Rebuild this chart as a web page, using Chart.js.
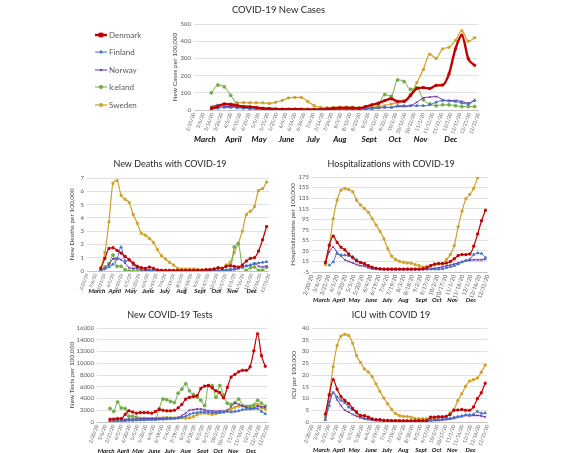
<!DOCTYPE html>
<html>
<head>
<meta charset="utf-8">
<title>COVID-19 Nordic countries</title>
<script src="https://cdn.jsdelivr.net/npm/chart.js@4.4.0/dist/chart.umd.min.js"></script>
<style>
  html, body { margin: 0; padding: 0; background: #fff; }
  body { width: 563px; height: 453px; position: relative; overflow: hidden; }
  canvas { position: absolute; }
</style>
</head>
<body>
<canvas id="casesChart" width="415" height="146" style="left:71px;top:0px"></canvas>
<canvas id="deathsChart" width="216" height="152" style="left:60px;top:150px"></canvas>
<canvas id="hospChart" width="216" height="156" style="left:280px;top:150px"></canvas>
<canvas id="testsChart" width="215" height="150" style="left:60px;top:303px"></canvas>
<canvas id="icuChart" width="215" height="150" style="left:280px;top:303px"></canvas>

<script>
// weekly data points (one per week)
const weekDates = ['3/15/20','3/22/20','3/29/20','4/5/20','4/12/20','4/19/20','4/26/20','5/3/20','5/10/20','5/17/20',
  '5/24/20','5/31/20','6/7/20','6/14/20','6/21/20','6/28/20','7/5/20','7/12/20','7/19/20','7/26/20',
  '8/2/20','8/9/20','8/16/20','8/23/20','8/30/20','9/6/20','9/13/20','9/20/20','9/27/20','10/4/20',
  '10/11/20','10/18/20','10/25/20','11/1/20','11/8/20','11/15/20','11/22/20','11/29/20','12/6/20','12/13/20',
  '12/20/20','12/27/20'];

// x tick labels
const caseTickDates = ['2/25/20','3/6/20','3/16/20','3/26/20','4/5/20','4/15/20','4/25/20','5/5/20','5/15/20','5/25/20',
  '6/4/20','6/14/20','6/24/20','7/4/20','7/14/20','7/24/20','8/3/20','8/13/20','8/23/20','9/2/20','9/12/20',
  '9/22/20','10/2/20','10/12/20','10/22/20','11/1/20','11/11/20','11/21/20','12/1/20','12/11/20','12/21/20','12/31/20'];
const panelTickDates = ['2/20/20','3/6/20','3/21/20','4/5/20','4/20/20','5/5/20','5/20/20','6/4/20','6/19/20','7/4/20',
  '7/19/20','8/3/20','8/18/20','9/2/20','9/17/20','10/2/20','10/17/20','11/1/20','11/16/20','12/1/20','12/16/20','12/31/20'];

const monthNames = ['March','April','May','June','July','Aug','Sept','Oct','Nov','Dec'];
const monthAnchors = ['3/8/20','4/8/20','5/6/20','6/5/20','7/4/20','8/2/20','9/3/20','10/1/20','10/29/20','12/1/20'];

// y tick values
const caseTicks = [0, 50, 100, 150, 200, 250, 300, 350, 400, 450, 500];
const deathTicks = [0, 1, 2, 3, 4, 5, 6, 7];
const hospTicks = [-5, 15, 35, 55, 75, 95, 115, 135, 155, 175];
const testTicks = [0, 2000, 4000, 6000, 8000, 10000, 12000, 14000, 16000];
const icuTicks = [0, 5, 10, 15, 20, 25, 30, 35, 40];

const countries = ['Denmark', 'Finland', 'Norway', 'Iceland', 'Sweden'];

// New cases per 100,000
const casesDenmark = [10, 20, 35, 32, 25, 20, 18, 15, 10, 8, 6, 5, 5, 5, 4, 3, 3, 3, 6, 10,
  12, 12, 12, 10, 20, 30, 40, 55, 65, 50, 50, 85, 125, 130, 125, 143, 145, 210, 355, 435, 298, 260];
const casesFinland = [5, 10, 15, 15, 12, 10, 8, 6, 5, 4, 3, 3, 2, 2, 2, 2, 2, 2, 3, 4,
  5, 5, 6, 7, 8, 10, 12, 15, 15, 25, 25, 25, 25, 25, 30, 45, 55, 52, 50, 40, 35, 55];
const casesNorway = [20, 30, 20, 20, 18, 15, 12, 10, 5, 4, 3, 3, 3, 3, 3, 3, 3, 4, 5, 6,
  8, 8, 8, 8, 10, 10, 12, 15, 15, 20, 20, 25, 45, 70, 75, 78, 60, 55, 55, 50, 40, 60];
const casesIceland = [100, 145, 135, 85, 35, 15, 10, 5, 3, 2, 2, 2, 2, 2, 2, 2, 2, 3, 5, 5,
  3, 3, 2, 2, 3, 8, 30, 90, 80, 175, 165, 120, 130, 60, 35, 25, 30, 30, 25, 20, 20, 20];
const casesSweden = [15, 25, 35, 35, 42, 43, 42, 42, 42, 38, 45, 55, 70, 73, 73, 50, 25, 15, 13, 15,
  17, 18, 17, 15, 13, 15, 20, 25, 35, 42, 55, 90, 160, 235, 325, 300, 355, 365, 405, 460, 400, 420];

// New deaths per 100,000
const deathsDenmark = [0.2, 0.95, 1.7, 1.75, 1.55, 1.35, 1.1, 0.85, 0.6, 0.35, 0.25, 0.2, 0.3, 0.2, 0.08, 0.05, 0.05, 0.05, 0.05, 0.05,
  0.05, 0.05, 0.05, 0.05, 0.05, 0.05, 0.1, 0.1, 0.15, 0.25, 0.2, 0.35, 0.4, 0.35, 0.3, 0.45, 0.75, 0.95, 1.0, 1.5, 2.35, 3.35];
const deathsFinland = [0.05, 0.15, 0.3, 0.5, 0.9, 1.8, 0.75, 0.8, 0.45, 0.3, 0.2, 0.15, 0.1, 0.05, 0.05, 0.04, 0.04, 0.03, 0.03, 0.03,
  0.03, 0.03, 0.03, 0.03, 0.03, 0.04, 0.04, 0.05, 0.05, 0.05, 0.05, 0.06, 0.1, 0.15, 0.2, 0.3, 0.4, 0.45, 0.55, 0.6, 0.65, 0.7];
const deathsNorway = [0.05, 0.2, 0.5, 0.9, 0.95, 0.85, 0.6, 0.25, 0.2, 0.2, 0.1, 0.05, 0.05, 0.03, 0.03, 0.02, 0.02, 0.02, 0.02, 0.02,
  0.02, 0.02, 0.02, 0.02, 0.02, 0.02, 0.02, 0.03, 0.03, 0.03, 0.05, 0.05, 0.1, 0.1, 0.2, 0.3, 0.35, 0.45, 0.6, 0.35, 0.3, 0.35];
const deathsIceland = [0, 0.3, 0.55, 1.2, 0.35, 0.35, 0.1, 0, 0, 0, 0, 0, 0, 0, 0, 0, 0, 0, 0, 0,
  0, 0, 0, 0, 0, 0, 0, 0, 0, 0, 0, 0.05, 0.1, 1.8, 2.05, 0.3, 0.05, 0.25, 0.3, 0.05, 0.05, 0.3];
const deathsSweden = [0.25, 1.4, 3.7, 6.6, 6.8, 5.7, 5.4, 5.15, 4.25, 3.6, 2.85, 2.7, 2.45, 2.15, 1.6, 1.15, 0.9, 0.65, 0.45, 0.2,
  0.15, 0.15, 0.15, 0.15, 0.12, 0.1, 0.12, 0.12, 0.15, 0.2, 0.2, 0.45, 0.65, 1.4, 2.1, 3.0, 4.25, 4.5, 4.85, 6.05, 6.2, 6.7];

// Hospitalizations per 100,000
const hospDenmark = [13, 46, 63, 51, 42, 37, 29, 22, 16, 13, 11, 7, 4, 2, 1, 0.5, 0.3, 0.3, 0.3, 0.3,
  0.3, 0.3, 0.3, 0.3, 0.3, 1, 3, 7, 10, 11, 11, 12, 15, 20, 26, 28, 28, 29, 44, 67, 92, 112];
const hospFinland = [null, 8, 14, 30, 27, 27, 26, 24, 18, 13, 9, 5, 2, 1, 0.5, 0.3, 0.3, 0.3, 0.3, 0.3,
  0.3, 0.3, 0.3, 0.3, 0.3, 0.3, 0.3, 0.3, 0.3, 0.3, 1, 3, 5, 7, 10, 14, 17, 19, 28, 31, 30, 22];
const hospNorway = [13, 33, 42, 32, 25, 18, 15, 12, 9, 7, 6, 3, 1, 0.5, 0.3, 0.3, 0.3, 0.3, 0.3, 0.3,
  0.3, 0.3, 0.3, 0.3, 0.3, 0.3, 0.3, 1, 2, 3, 5, 7, 8, 10, 12, 14, 16, 17, 18, 18, 18, 19];
const hospSweden = [9, 44, 96, 131, 150, 153, 151, 147, 131, 122, 115, 108, 96, 84, 72, 58, 39, 25, 18.5, 15.3,
  13.4, 12.1, 11.5, 9, 7.1, 4.5, 5.8, 7.1, 9, 10.2, 10.9, 18.5, 28, 45, 80.6, 110.4, 133.8, 142, 153.5, 173.7, null, null];

// New tests per 100,000
const testsDenmark = [450, 500, 600, 600, 1300, 1900, 1700, 1500, 1600, 1600, 1600, 1500, 1800, 2100, 2000, 1900, 1900, 2000, 2400, 3000,
  3900, 4200, 4300, 4500, 5700, 6100, 6200, 5800, 5300, 5000, 4100, 5900, 7650, 8100, 8550, 8800, 8800, 9400, 12100, 15000, 11300, 9500];
const testsFinland = [100, 150, 200, 250, 250, 300, 300, 350, 350, 350, 400, 400, 400, 450, 450, 500, 550, 600, 700, 800,
  1000, 1300, 1500, 1600, 1700, 1700, 1700, 1600, 1600, 1600, 1700, 1800, 1700, 1800, 1900, 2100, 2200, 2200, 2300, 2300, 1800, 1400];
const testsNorway = [500, 500, 500, 500, 450, 500, 500, 500, 550, 550, 600, 600, 600, 600, 600, 650, 650, 700, 750, 1100,
  1500, 2000, 2100, 2200, 2200, 2100, 1900, 1900, 1800, 1900, 1800, 2000, 2600, 3200, 3000, 2700, 2500, 2300, 2300, 2700, 2600, 2500];
const testsIceland = [2300, 1800, 3400, 2400, 2300, 1000, 1000, 800, 600, 600, 500, 500, 500, 2300, 3900, 3800, 3500, 3300, 4900, 5600,
  6500, 5300, 4700, 4200, 3700, 2800, 6200, 6200, 4200, 6200, 4600, 3200, 3000, 3300, 3900, 2800, 2600, 2700, 2900, 3700, 3200, 2700];
const testsSweden = [100, 150, 200, 200, 250, 300, 300, 350, 400, 450, 500, 550, 600, 650, 700, 750, 700, 650, 650, 700,
  650, 700, 900, 1200, 1500, 1500, 1400, 1300, 1400, 1600, 1700, 1900, 2200, 2500, 2700, 2800, 2700, 2600, 2700, 3000, 2400, 2200];

// ICU per 100,000
const icuDenmark = [3.4, 11.5, 18, 14, 10.8, 9.2, 7.8, 5.8, 4.3, 2.8, 2.7, 2.1, 1.3, 1.0, 1.0, 0.7, 0.7, 0.6, 0.6, 0.6,
  0.5, 0.5, 0.5, 0.5, 0.6, 0.6, 0.6, 2.1, 2.1, 2.2, 2.2, 2.4, 3.2, 5.0, 5.1, 5.3, 5.0, 5.0, 6.4, 9.9, 12.4, 16.5];
const icuFinland = [1.0, 7.0, 12.5, 10.6, 9.2, 8.2, 6.3, 5.2, 3.8, 2.4, 1.7, 1.4, 1.2, 1.0, 0.8, 0.7, 0.6, 0.5, 0.5, 0.4,
  0.4, 0.4, 0.4, 0.4, 0.4, 0.5, 0.6, 0.8, 1.0, 1.1, 1.2, 1.4, 1.6, 2.0, 2.3, 2.6, 3.0, 3.0, 3.3, 4.5, 3.7, 3.8];
const icuNorway = [1.5, 8.5, 12.5, 9.5, 7.0, 5.0, 4.2, 3.2, 2.5, 1.8, 1.3, 1.0, 0.8, 0.6, 0.5, 0.4, 0.3, 0.3, 0.3, 0.3,
  0.3, 0.3, 0.3, 0.3, 0.3, 0.3, 0.4, 0.5, 0.6, 0.7, 0.8, 1.0, 1.2, 1.5, 2.0, 2.3, 2.8, 2.6, 2.8, 2.8, 2.6, 2.2];
const icuSweden = [2.4, 11.9, 23.5, 32.5, 36.5, 37.3, 36.8, 33.5, 28.3, 25.4, 22.6, 21.3, 19.3, 16.2, 13.1, 10.2, 7.7, 5.4, 3.6, 2.7,
  2.4, 2.3, 2.0, 1.5, 1.4, 1.4, 1.4, 1.4, 1.6, 2.0, 2.1, 2.4, 3.8, 5.3, 9.1, 12.0, 15.2, 17.4, 18.0, 18.7, 21.2, 24.2];

// styles
const FONT = "Lato, 'Open Sans', sans-serif";
const seriesColors = { Denmark: '#C00000', Finland: '#4472C4', Norway: '#7030A0', Iceland: '#70AD47', Sweden: '#CFA12C' };
const seriesMarkers = { Denmark: 'rect', Finland: 'triangle', Norway: 'crossRot', Iceland: 'circle', Sweden: 'rect' };

function dayNum(s) {
    const [m, d, y] = s.split('/').map(Number);
    return (Date.UTC(2000 + y, m - 1, d) - Date.UTC(2020, 0, 1)) / 864e5;
}

function series(name, values, width) {
    return {
        label: name,
        data: values.map((v, i) => ({ x: dayNum(weekDates[i]), y: v })),
        borderColor: seriesColors[name],
        backgroundColor: seriesColors[name],
        borderWidth: width,
        pointStyle: seriesMarkers[name],
        pointRadius: 1.5,
        pointBorderWidth: 0.8,
        cubicInterpolationMode: 'monotone',
        spanGaps: false
    };
}

// month names under the date labels
const monthRow = {
    id: 'monthRow',
    afterDraw(chart, args, opts) {
        const { ctx, chartArea, scales } = chart;
        ctx.save();
        ctx.font = `italic bold ${opts.size}px ${FONT}`;
        ctx.fillStyle = '#111';
        ctx.textAlign = 'center';
        ctx.textBaseline = 'middle';
        monthNames.forEach((m, i) => {
            ctx.fillText(m, scales.x.getPixelForValue(dayNum(monthAnchors[i])), chartArea.bottom + opts.offset);
        });
        ctx.restore();
    }
};

// legend drawn on the left of the new-cases chart
const sideLegend = {
    id: 'sideLegend',
    afterDraw(chart, args, opts) {
        if (!opts.rows) return;
        const ctx = chart.ctx;
        ctx.save();
        chart.data.datasets.forEach((ds, i) => {
            const y = opts.rows[i];
            ctx.strokeStyle = ds.borderColor;
            ctx.lineWidth = ds.borderWidth;
            ctx.beginPath();
            ctx.moveTo(opts.x, y);
            ctx.lineTo(opts.x + opts.len, y);
            ctx.stroke();
            ctx.fillStyle = ds.borderColor;
            Chart.helpers.drawPoint(ctx, { pointStyle: ds.pointStyle, radius: 1.6, borderWidth: 0.8 }, opts.x + opts.len / 2, y);
            ctx.fillStyle = '#595959';
            ctx.font = `8px ${FONT}`;
            ctx.textBaseline = 'middle';
            ctx.fillText(ds.label, opts.x + opts.len + 2, y);
        });
        ctx.restore();
    }
};

function makePanel(id, p) {
    const labelOf = {};
    p.xTicks.forEach(d => { labelOf[dayNum(d)] = d; });
    return new Chart(document.getElementById(id), {
        type: 'line',
        data: { datasets: p.datasets },
        plugins: [monthRow, sideLegend],
        options: {
            responsive: false,
            animation: false,
            devicePixelRatio: 1,
            layout: { padding: { left: p.padL, right: 0, top: 0, bottom: 0 } },
            plugins: {
                legend: { display: false },
                tooltip: { enabled: false },
                title: {
                    display: true, text: p.title, color: '#262626',
                    font: { family: FONT, size: p.titleSize, weight: 'normal' },
                    padding: { top: p.titleTop, bottom: p.titleBottom }
                },
                monthRow: { offset: p.monthOffset, size: p.monthSize },
                sideLegend: p.legend || {}
            },
            scales: {
                x: {
                    type: 'linear',
                    min: dayNum(p.xTicks[0]),
                    max: dayNum(p.xTicks[p.xTicks.length - 1]),
                    afterBuildTicks: s => { s.ticks = p.xTicks.map(d => ({ value: dayNum(d) })); },
                    afterFit: s => { s.height = p.xHeight; },
                    grid: { display: false, drawTicks: false },
                    border: { display: true, color: '#BFBFBF', width: 0.8 },
                    ticks: {
                        autoSkip: false, minRotation: 70, maxRotation: 70, padding: 2,
                        color: '#595959', font: { family: FONT, size: p.xFont },
                        callback: v => labelOf[v]
                    }
                },
                y: {
                    min: p.yTicks[0],
                    max: p.yTicks[p.yTicks.length - 1],
                    afterBuildTicks: s => { s.ticks = p.yTicks.map(v => ({ value: v })); },
                    afterFit: s => { s.width = p.yWidth; },
                    grid: { color: '#D9D9D9', lineWidth: 0.8, drawTicks: false },
                    border: { display: false },
                    ticks: {
                        padding: 3, color: '#595959', font: { family: FONT, size: 6 },
                        callback: v => String(v)
                    },
                    title: {
                        display: true, text: p.yTitle, color: '#404040',
                        font: { family: FONT, size: 6.5 },
                        padding: { top: p.yTitlePad, bottom: 0 }
                    }
                }
            }
        }
    });
}

makePanel('casesChart', {
    title: 'COVID-19 New Cases', titleSize: 9.5, titleTop: 4.3, titleBottom: 8.3,
    datasets: [series('Denmark', casesDenmark, 2.4), series('Finland', casesFinland, 1),
        series('Norway', casesNorway, 1), series('Iceland', casesIceland, 1), series('Sweden', casesSweden, 1.2)],
    xTicks: caseTickDates, xFont: 5, xHeight: 36, monthOffset: 29, monthSize: 8,
    yTicks: caseTicks, yWidth: 123, yTitle: 'New Cases per 100,000', yTitlePad: 100, padL: 0,
    legend: { x: 24, len: 12, rows: [35, 52, 70, 87, 105] }
});

makePanel('deathsChart', {
    title: 'New Deaths with COVID-19', titleSize: 9, titleTop: 8.6, titleBottom: 8.6,
    datasets: [series('Denmark', deathsDenmark, 1.2), series('Finland', deathsFinland, 1),
        series('Norway', deathsNorway, 1), series('Iceland', deathsIceland, 1), series('Sweden', deathsSweden, 1.2)],
    xTicks: panelTickDates, xFont: 4.5, xHeight: 31, monthOffset: 20, monthSize: 6.2,
    yTicks: deathTicks, yWidth: 23, yTitle: 'New Deaths per 100,000', yTitlePad: 4, padL: 4
});

makePanel('hospChart', {
    title: 'Hospitalizations with COVID-19', titleSize: 9, titleTop: 8.6, titleBottom: 7.6,
    datasets: [series('Denmark', hospDenmark, 1.2), series('Finland', hospFinland, 1),
        series('Norway', hospNorway, 1), series('Sweden', hospSweden, 1.2)],
    xTicks: panelTickDates, xFont: 5.6, xHeight: 34, monthOffset: 28, monthSize: 6.2,
    yTicks: hospTicks, yWidth: 26, yTitle: 'Hospitalizations per 100,000', yTitlePad: 3, padL: 6
});

makePanel('testsChart', {
    title: 'New COVID-19 Tests', titleSize: 9, titleTop: 6.6, titleBottom: 7.6,
    datasets: [series('Denmark', testsDenmark, 1.2), series('Finland', testsFinland, 1),
        series('Norway', testsNorway, 1), series('Iceland', testsIceland, 1), series('Sweden', testsSweden, 1.2)],
    xTicks: panelTickDates, xFont: 5, xHeight: 31, monthOffset: 29, monthSize: 6.2,
    yTicks: testTicks, yWidth: 32, yTitle: 'New Tests per 100,000', yTitlePad: 3, padL: 5
});

makePanel('icuChart', {
    title: 'ICU with COVID 19', titleSize: 9, titleTop: 6.6, titleBottom: 7.6,
    datasets: [series('Denmark', icuDenmark, 1.2), series('Finland', icuFinland, 1),
        series('Norway', icuNorway, 1), series('Sweden', icuSweden, 1.2)],
    xTicks: panelTickDates, xFont: 5, xHeight: 31, monthOffset: 28, monthSize: 6.2,
    yTicks: icuTicks, yWidth: 25, yTitle: 'ICU per 100,000', yTitlePad: 2.6, padL: 7
});
</script>
</body>
</html>
